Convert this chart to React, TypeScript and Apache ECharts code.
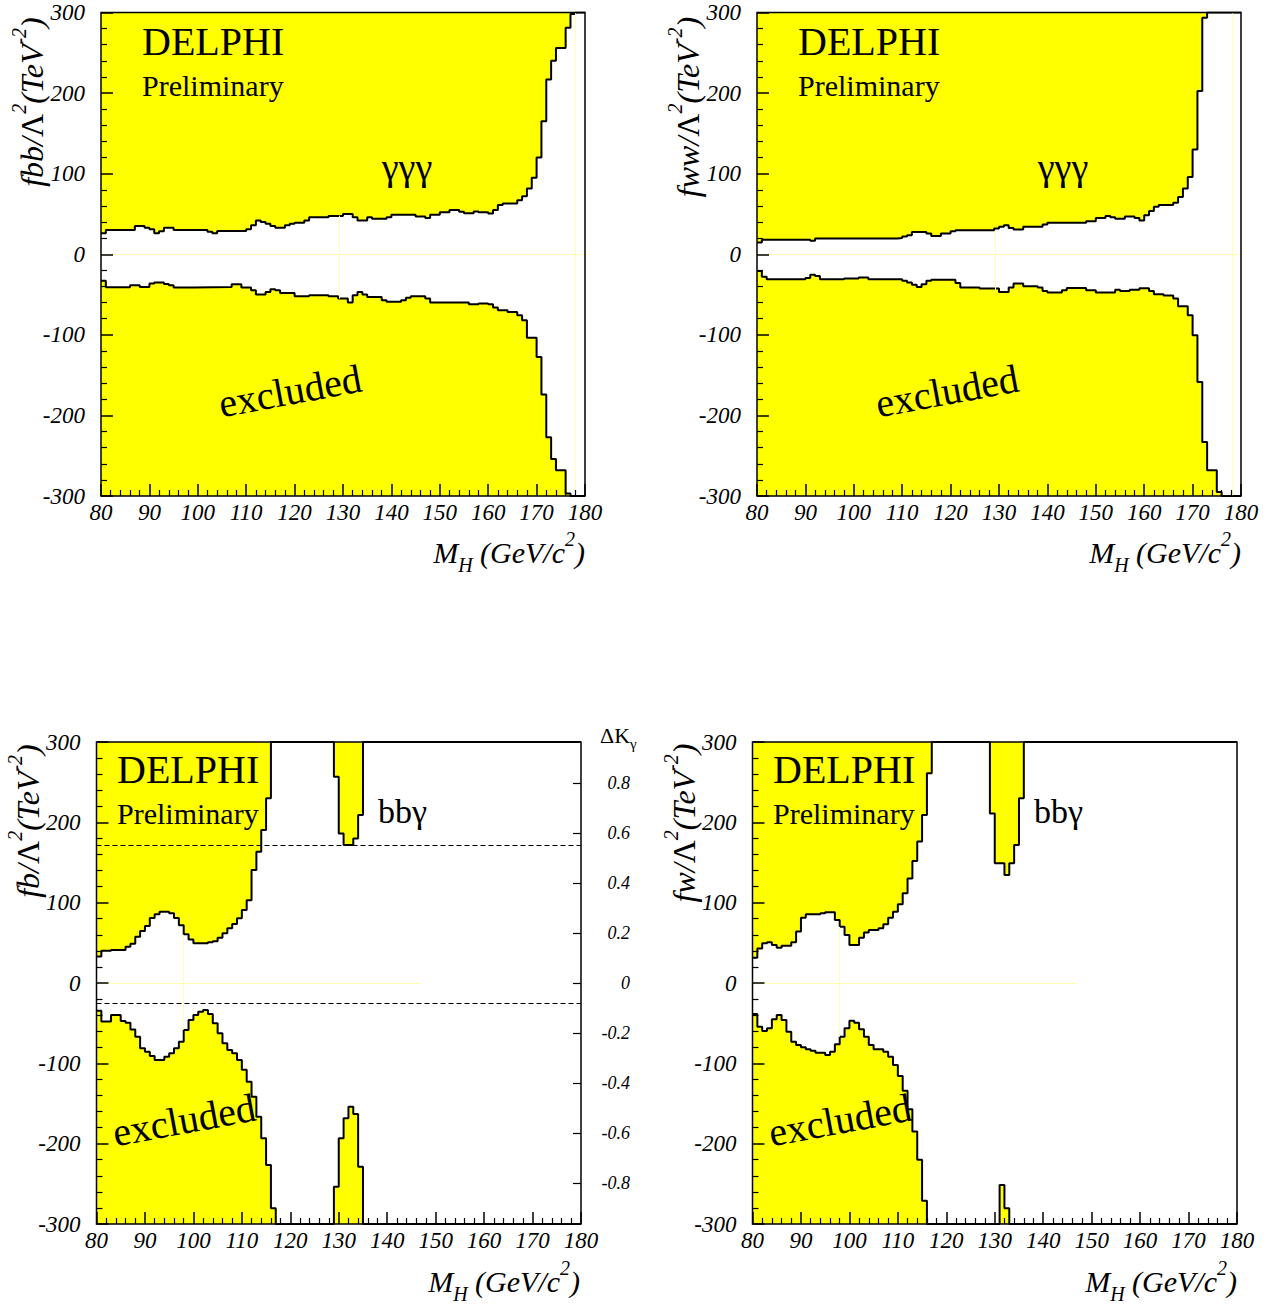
import React, { useEffect, useRef } from "react";
import * as echarts from "echarts";

// ---------- data (mass in GeV/c^2, coupling in TeV^-2; each point = value from that mass on) ----------
const massMin = 80;
const massMax = 180;
const couplingMin = -300;
const couplingMax = 300;

const fbbUpper: [number, number][] = [[80,26],[81,30],[87,35],[89,33],[90,31],[91,26],[92,28.5],[93,33],[95,30],[102,28],[103,26],[104,29],[110,31],[111,36],[112,42],[113,40],[114,38],[115,35],[116,33],[118,36],[119,38],[120,39],[122,42],[123,46],[127,47.6],[130,50],[132,46],[133,42],[135,46],[136,44],[139,46],[140,49],[145,47],[147,45],[148,49],[150,52],[152,55],[154,52.6],[155,51],[157,53],[158,52],[160,50.5],[161,55],[162,61],[163,63],[166,67],[167,72],[168,81.6],[169,95],[170,120],[171,165],[172,217],[173,240],[174,256],[176,281],[177,298],[178,300]];
const fbbLower: [number, number][] = [[80,-33],[81,-41],[86,-38.5],[88,-40.6],[90,-36.4],[91,-35.2],[93,-37],[94,-38.5],[95,-41.4],[99,-40.6],[107,-37.3],[109,-41.4],[111,-44.7],[112,-50],[114,-46.8],[115,-43.5],[116,-44.7],[117,-48],[120,-52],[123,-51],[127,-52],[129,-55],[131,-60],[132,-51],[133,-47],[134,-50],[135,-53],[138,-57],[139,-59],[142,-57],[143,-54],[144,-52],[147,-55],[148,-60],[156,-62],[158,-61],[160,-62],[161,-66],[162,-69.6],[164,-71.6],[166,-75.8],[167,-82],[168,-103.5],[170,-127.5],[171,-174],[172,-227],[173,-254],[174,-268],[176,-297],[177,-300]];

const fwwUpper: [number, number][] = [[80,14.5],[81,18],[91,16.6],[92,19.5],[109,20.3],[110,22],[111,23.6],[112,27.7],[115,25.7],[116,22.8],[118,25.7],[120,28.6],[121,29.8],[129,32],[130,34],[131,36],[132,32.7],[133,30.6],[135,34],[139,36.9],[140,39],[148,41],[150,45],[152,47.6],[153,46],[154,44],[156,46.8],[158,45],[159,42],[160,48.4],[161,53.8],[162,58.8],[163,61],[166,63.8],[167,71],[168,81.6],[169,96],[170,130],[171,202.5],[172,293.6],[173,300]];
const fwwLower: [number, number][] = [[80,-20.7],[81,-28],[82,-31],[90,-29.4],[91,-25.3],[92,-27],[93,-31],[98,-30],[101,-29],[103,-31],[110,-33],[111,-35],[112,-37.7],[113,-40.6],[114,-37.3],[115,-33],[116,-31.5],[121,-35.6],[122,-41.4],[126,-42.6],[130,-46.8],[132,-41.4],[133,-36.4],[135,-39.8],[138,-41.4],[139,-45.5],[140,-47.6],[143,-44.7],[144,-41.8],[148,-44.7],[150,-47.6],[154,-44],[155,-45.5],[157,-44],[159,-42.2],[161,-45.5],[162,-49.7],[164,-51.3],[166,-55],[167,-64.6],[169,-75.8],[170,-100.6],[171,-158.6],[172,-233],[173,-268],[175,-295],[176,-300]];

const fbUpper: [number, number][] = [[80,33],[81,40],[83,41],[86,45],[87,49],[88,57.7],[89,64.7],[90,71],[91,81],[92,85.5],[93,88.8],[95,86.7],[96,81],[97,72],[98,60.6],[99,54],[100,49.4],[103,50.6],[104,52],[105,56.4],[106,61.8],[107,68],[108,73.4],[109,80.5],[110,91],[111,103],[112,140.7],[113,163.5],[114,190.5],[115,230],[116,300],[129,256.8],[130,186],[131,171.8],[133,180],[134,209],[135,300]];
const fbLower: [number, number][] = [[80,-34.4],[81,-48],[83,-39.8],[85,-47.3],[86,-49.4],[87,-58],[88,-66.8],[89,-81.3],[90,-85.5],[91,-90.9],[92,-95.8],[94,-91.7],[95,-87.5],[96,-81.3],[97,-73],[98,-58.5],[99,-46],[100,-39.8],[101,-35.7],[102,-33.6],[103,-38.6],[104,-50.2],[105,-62.7],[106,-75],[107,-83.4],[108,-87.5],[109,-95.8],[110,-108],[111,-122.8],[112,-141.5],[113,-166.4],[114,-193.4],[115,-226.6],[116,-280.5],[117,-300],[129,-253.5],[130,-193.4],[131,-168.5],[132,-154],[133,-163],[134,-228.6],[135,-300]];

const fwUpper: [number, number][] = [[80,31.5],[81,43],[82,49.4],[83,50.6],[84,47.3],[85,44],[86,46.5],[88,50.6],[89,64],[90,81.3],[91,85.5],[94,86.7],[95,88],[97,78.4],[98,70],[99,59.8],[100,47.3],[102,56.4],[103,63],[104,66],[106,68],[107,73],[108,81.3],[109,88.8],[110,98],[111,111.6],[112,130],[113,152],[114,176],[115,209],[116,261],[117,300],[129,211],[130,149],[132,134.4],[133,149],[134,171.8],[135,230],[136,300]];
const fwLower: [number, number][] = [[80,-38.6],[81,-54.4],[82,-59.8],[83,-56.4],[84,-45.2],[85,-39.8],[86,-46],[87,-60.6],[88,-73],[89,-77.2],[90,-80],[91,-82.6],[92,-84.2],[93,-86.7],[95,-89.6],[96,-85.5],[97,-76.3],[98,-66.8],[99,-56.4],[100,-46.9],[101,-49.4],[102,-57.7],[103,-66.8],[104,-77.2],[105,-82.6],[107,-85.5],[108,-91.7],[109,-102],[110,-115.8],[111,-134],[112,-157.3],[113,-185],[114,-220],[115,-271],[116,-300],[131,-251.5],[132,-280.5],[133,-300]];

// faint contour remnants [x1,y1,x2,y2]
const fbbFaint = [[80,0,180,0],[129.2,-55,129.2,48],[178,-300,178,300]];
const fwwFaint = [[80,0,180,0],[129.2,-46,129.2,30],[178.2,-300,178.2,300]];
const fbFaint = [[80,0,147,0],[98,-58,98,60]];
const fwFaint = [[80,0,147,0],[97.9,-67,97.9,70]];

// right axis of the f_b panel
const kGammaTicks = [-0.8, -0.6, -0.4, -0.2, 0, 0.2, 0.4, 0.6, 0.8];
const kGammaRange = 0.964;
const kGammaLimits = [-0.078, 0.549];

const couplingNames = ["fbb", "fww", "fb", "fw"];
const processLabels = ["γγγ", "γγγ", "bbγ", "bbγ"];

// ---------- layout ----------
const SERIF = '"Liberation Serif", "Times New Roman", serif';
const YELLOW = "#ffff00";
const FAINT = "#ffffb0";

const grids = [
  { left: 101, top: 12.5, width: 484, height: 483.5 },
  { left: 757, top: 12.5, width: 484, height: 483.5 },
  { left: 96.5, top: 742, width: 484.5, height: 482 },
  { left: 752.5, top: 742, width: 484.5, height: 482 },
];

const ann = [
  { delphi: [142, 41], prelim: [142, 85], proc: [407, 167], procAlign: "center", procSize: 38, excl: [290, 391], ytitle: [32, 102], xtitle: [585, 552] },
  { delphi: [798, 41], prelim: [798, 85], proc: [1063, 167], procAlign: "center", procSize: 38, excl: [947, 391], ytitle: [688, 107], xtitle: [1241, 552] },
  { delphi: [117, 769], prelim: [117, 813], proc: [378, 811], procAlign: "left", procSize: 34, excl: [184, 1120], ytitle: [28, 821], xtitle: [580, 1281] },
  { delphi: [773, 769], prelim: [773, 813], proc: [1034, 811], procAlign: "left", procSize: 34, excl: [840, 1120], ytitle: [684, 823], xtitle: [1237, 1281] },
];

const panelData = [
  { upper: fbbUpper, lower: fbbLower, faint: fbbFaint },
  { upper: fwwUpper, lower: fwwLower, faint: fwwFaint },
  { upper: fbUpper, lower: fbLower, faint: fbFaint },
  { upper: fwUpper, lower: fwLower, faint: fwFaint },
];

function withEnd(pts: [number, number][]) {
  const last = pts[pts.length - 1];
  return [...pts, [massMax, last[1]]];
}

const labelFont = { fontFamily: SERIF, fontStyle: "italic", fontSize: 23, color: "#000" };

function buildOption() {
  const xAxis: any[] = [];
  const yAxis: any[] = [];
  const series: any[] = [];
  const graphic: any[] = [];

  grids.forEach((g, i) => {
    xAxis.push({
      gridIndex: i,
      type: "value",
      min: massMin,
      max: massMax,
      interval: 10,
      z: 10,
      axisLine: { show: false, onZero: false },
      axisTick: { inside: true, length: 12, lineStyle: { color: "#000", width: 1.5 } },
      minorTick: { show: true, splitNumber: 5, length: 6, lineStyle: { color: "#000", width: 1.2 } },
      axisLabel: { ...labelFont, margin: 5, showMinLabel: true, showMaxLabel: true },
      splitLine: { show: false },
      minorSplitLine: { show: false },
    });
    yAxis.push({
      gridIndex: i,
      type: "value",
      min: couplingMin,
      max: couplingMax,
      interval: 100,
      z: 10,
      axisLine: { show: false, onZero: false },
      axisTick: { inside: true, length: 12, lineStyle: { color: "#000", width: 1.5 } },
      minorTick: { show: true, splitNumber: 5, length: 6, lineStyle: { color: "#000", width: 1.2 } },
      axisLabel: { ...labelFont, margin: 16, showMinLabel: true, showMaxLabel: true },
      splitLine: { show: false },
      minorSplitLine: { show: false },
    });

    const d = panelData[i];
    series.push({
      type: "line",
      xAxisIndex: i,
      yAxisIndex: i,
      step: "end",
      symbol: "none",
      z: 3,
      data: withEnd(d.upper),
      lineStyle: { color: "#000", width: 2 },
      areaStyle: { color: YELLOW, opacity: 1, origin: "end" },
    });
    series.push({
      type: "line",
      xAxisIndex: i,
      yAxisIndex: i,
      step: "end",
      symbol: "none",
      z: 3,
      data: withEnd(d.lower),
      lineStyle: { color: "#000", width: 2 },
      areaStyle: { color: YELLOW, opacity: 1, origin: "start" },
    });
    series.push({
      type: "line",
      xAxisIndex: i,
      yAxisIndex: i,
      data: [],
      z: 1,
      markLine: {
        silent: true,
        symbol: "none",
        label: { show: false },
        lineStyle: { color: FAINT, width: 1, type: "solid" },
        data: d.faint.map((s) => [{ coord: [s[0], s[1]] }, { coord: [s[2], s[3]] }]),
      },
    });

    // frame
    graphic.push({
      type: "rect",
      z: 100,
      silent: true,
      shape: { x: g.left, y: g.top, width: g.width, height: g.height },
      style: { fill: null, stroke: "#000", lineWidth: 1.5 },
    });

    const a = ann[i];
    graphic.push({
      type: "text", z: 100, x: a.delphi[0], y: a.delphi[1],
      style: { text: "DELPHI", fontFamily: SERIF, fontSize: 40, fill: "#000", align: "left", verticalAlign: "middle" },
    });
    graphic.push({
      type: "text", z: 100, x: a.prelim[0], y: a.prelim[1],
      style: { text: "Preliminary", fontFamily: SERIF, fontSize: 30, fill: "#000", align: "left", verticalAlign: "middle" },
    });
    graphic.push({
      type: "text", z: 100, x: a.proc[0], y: a.proc[1],
      style: { text: processLabels[i], fontFamily: SERIF, fontSize: a.procSize, fill: "#000", align: a.procAlign, verticalAlign: "middle" },
    });
    graphic.push({
      type: "text", z: 100, x: a.excl[0], y: a.excl[1], rotation: (10.5 * Math.PI) / 180,
      style: { text: "excluded", fontFamily: SERIF, fontSize: 40, fill: "#000", align: "center", verticalAlign: "middle" },
    });
    graphic.push({
      type: "text", z: 100, x: a.ytitle[0], y: a.ytitle[1], rotation: Math.PI / 2,
      style: {
        text: `{i|${couplingNames[i]}/}{n|Λ}{s|2}{i|(TeV}{s|-2}{i|)}`,
        align: "center",
        verticalAlign: "middle",
        fill: "#000",
        rich: {
          i: { fontFamily: SERIF, fontStyle: "italic", fontSize: 32, lineHeight: 46, fill: "#000" },
          n: { fontFamily: SERIF, fontSize: 32, lineHeight: 46, fill: "#000" },
          s: { fontFamily: SERIF, fontStyle: "italic", fontSize: 20, lineHeight: 20, verticalAlign: "top", fill: "#000" },
        },
      },
    });
    graphic.push({
      type: "text", z: 100, x: a.xtitle[0], y: a.xtitle[1],
      style: {
        text: "{i|M}{b|H}{i| (GeV/c}{s|2}{i|)}",
        align: "right",
        verticalAlign: "middle",
        fill: "#000",
        rich: {
          i: { fontFamily: SERIF, fontStyle: "italic", fontSize: 30, lineHeight: 46, fill: "#000" },
          b: { fontFamily: SERIF, fontStyle: "italic", fontSize: 20, lineHeight: 20, verticalAlign: "bottom", fill: "#000" },
          s: { fontFamily: SERIF, fontStyle: "italic", fontSize: 20, lineHeight: 20, verticalAlign: "top", fill: "#000" },
        },
      },
    });
  });

  // right ΔKγ axis on the f_b panel
  yAxis.push({
    gridIndex: 2,
    type: "value",
    position: "right",
    min: -kGammaRange,
    max: kGammaRange,
    z: 10,
    axisLine: { show: false, onZero: false },
    axisTick: { inside: true, length: 8, customValues: kGammaTicks, lineStyle: { color: "#000", width: 1.2 } },
    axisLabel: {
      customValues: kGammaTicks,
      fontFamily: SERIF,
      fontStyle: "italic",
      fontSize: 18,
      color: "#000",
      align: "right",
      margin: 49,
      formatter: (v: number) => (Math.abs(v) < 1e-9 ? "0" : v.toFixed(1)),
    },
    splitLine: { show: false },
  });
  series.push({
    type: "line",
    xAxisIndex: 2,
    yAxisIndex: 4,
    data: [],
    z: 4,
    markLine: {
      silent: true,
      symbol: "none",
      label: { show: false },
      lineStyle: { color: "#000", width: 1, type: [5, 3] },
      data: kGammaLimits.map((v) => ({ yAxis: v })),
    },
  });
  graphic.push({
    type: "text", z: 100, x: 600, y: 735,
    style: {
      text: "{n|ΔK}{b|γ}",
      align: "left",
      verticalAlign: "middle",
      fill: "#000",
      rich: {
        n: { fontFamily: SERIF, fontSize: 22, lineHeight: 32, fill: "#000" },
        b: { fontFamily: SERIF, fontSize: 15, lineHeight: 15, verticalAlign: "bottom", fill: "#000" },
      },
    },
  });

  return {
    animation: false,
    backgroundColor: "#fff",
    grid: grids.map((g) => ({ ...g, containLabel: false })),
    xAxis,
    yAxis,
    series,
    graphic,
  };
}

export default function App() {
  const ref = useRef<HTMLDivElement>(null);
  useEffect(() => {
    if (!ref.current) return;
    const chart = echarts.init(ref.current, null, { renderer: "svg" });
    chart.setOption(buildOption() as any);
    return () => chart.dispose();
  }, []);
  return (
    <div
      ref={ref}
      style={{ position: "absolute", left: 0, top: 0, width: 1273, height: 1304, background: "#fff" }}
    />
  );
}
